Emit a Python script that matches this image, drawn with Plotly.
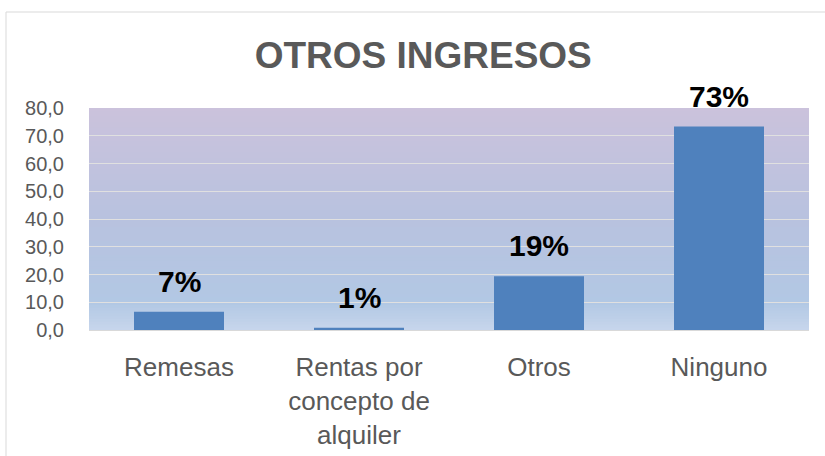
import plotly.graph_objects as go

# Data
categories = ["Remesas", "Rentas por<br>concepto de<br>alquiler", "Otros", "Ninguno"]
values = [6.6, 0.8, 19.4, 73.3]
labels = [f"{round(v)}%" for v in values]
y_ticks = [0, 10, 20, 30, 40, 50, 60, 70, 80]

BAR = "#4F81BD"
TEXT = "#595959"
FONT = "Liberation Sans, Arial, sans-serif"

fig = go.Figure()

fig.add_trace(go.Bar(
    x=categories, y=values,
    marker=dict(color=BAR, line=dict(width=0)),
    hoverinfo="skip",
))

# value labels above each bar
for c, v, t in zip(categories, values, labels):
    fig.add_annotation(
        x=c, y=v, xref="x", yref="y", text=f"<b>{t}</b>",
        showarrow=False, yanchor="bottom", yshift=12,
        font=dict(family=FONT, size=30, color="#000000"),
    )

# vertical gradient background (lavender top -> light blue bottom)
stops = [(0.0, (199, 214, 236)), (0.12, (178, 200, 228)), (0.5, (184, 194, 223)), (1.0, (203, 194, 220))]

def color_at(t):
    for (t0, c0), (t1, c1) in zip(stops[:-1], stops[1:]):
        if t0 <= t <= t1:
            f = (t - t0) / (t1 - t0)
            return "rgb(%d,%d,%d)" % tuple(round(a + (b - a) * f) for a, b in zip(c0, c1))
    return "rgb(%d,%d,%d)" % stops[-1][1]

n = 80
for i in range(n):
    y0 = 80 * i / n
    y1 = 80 * (i + 1) / n
    fig.add_shape(
        type="rect", xref="paper", yref="y", x0=0, x1=1, y0=y0, y1=min(y1 + 0.3, 80),
        fillcolor=color_at((i + 0.5) / n), line=dict(width=0), layer="below",
    )

# outer chart border
fig.add_shape(
    type="rect", xref="paper", yref="paper",
    x0=(6 - 89) / 720, x1=(830 - 89) / 720,
    y0=(330 - 462) / 222, y1=(330 - 12) / 222,
    line=dict(color="#D9D9D9", width=1), fillcolor="rgba(0,0,0,0)", layer="above",
)

fig.update_layout(
    width=825, height=456,
    margin=dict(l=89, r=16, t=108, b=126, autoexpand=False),
    paper_bgcolor="white",
    plot_bgcolor="rgba(0,0,0,0)",
    separators=",.",
    bargap=0.5,
    showlegend=False,
    title=dict(
        text="<b>OTROS INGRESOS</b>",
        x=0.513, xref="container", xanchor="center",
        y=0.88, yref="container", yanchor="middle",
        font=dict(family=FONT, size=37, color=TEXT),
    ),
    font=dict(family=FONT, color=TEXT),
)

fig.update_xaxes(
    showgrid=False, zeroline=False, showline=False, automargin=False,
    ticks="outside", ticklen=14, tickcolor="rgba(0,0,0,0)",
    tickfont=dict(family=FONT, size=26, color=TEXT),
)

fig.update_yaxes(
    range=[0, 80], tickvals=y_ticks, tickformat=".1f", automargin=False,
    showgrid=True, gridcolor="#E0E0E0", gridwidth=1,
    zeroline=True, zerolinecolor="#D9D9D9", zerolinewidth=1,
    showline=False,
    ticks="outside", ticklen=20, tickcolor="rgba(0,0,0,0)",
    tickfont=dict(family=FONT, size=20, color=TEXT),
)

fig.write_html("out.html")
